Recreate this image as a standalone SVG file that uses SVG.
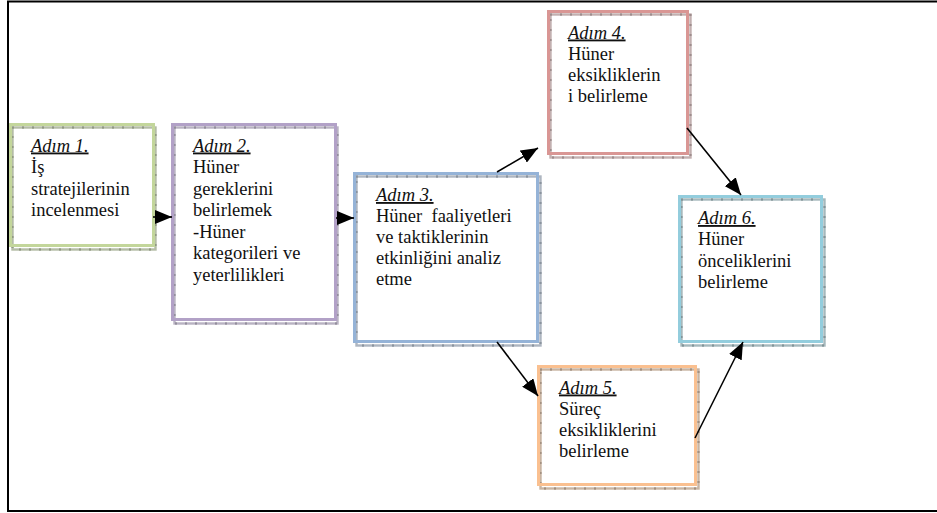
<svg xmlns="http://www.w3.org/2000/svg" width="937" height="513" viewBox="0 0 937 513">
<defs>
<marker id="ah" markerUnits="userSpaceOnUse" viewBox="0 0 17 14" refX="17" refY="7" markerWidth="17" markerHeight="14" orient="auto">
<path d="M0,0 L17,7 L0,14 z" fill="#000"/>
</marker>
</defs>
<style>
.frame{fill:none;stroke:#000;stroke-width:2}
.sh{fill:#fff;stroke-width:2.4}
.tick{fill:none;stroke-width:2.4;stroke-dasharray:1 9}
.col{fill:none;stroke-width:3}
.t{font-size:18.5px;fill:#111;white-space:pre}
.h{font-style:italic;text-decoration:underline}
.c{fill:none;stroke:#000;stroke-width:1.6;marker-end:url(#ah)}
</style>
<rect class="frame" x="8" y="1.5" width="935" height="509.5"/>

<g id="step1">
<rect class="sh" x="12.5" y="127.5" width="143" height="122" stroke="#b4bca6"/>
<rect class="tick" x="12.5" y="127.5" width="143" height="122" stroke="#6f7660"/>
<rect class="col" x="10.5" y="124.5" width="143" height="121" stroke="#C3D69B"/>
<text class="t" font-family="'Liberation Serif', 'DejaVu Serif', serif" x="31" y="151.5"><tspan class="h">Adım 1.</tspan><tspan x="31" dy="21.5">İş</tspan><tspan x="31" dy="21.5">stratejilerinin</tspan><tspan x="31" dy="21.5">incelenmesi</tspan></text>
</g>

<g id="step2">
<rect class="sh" x="174.5" y="127.5" width="163" height="196" stroke="#b8b2c2"/>
<rect class="tick" x="174.5" y="127.5" width="163" height="196" stroke="#6f6a78"/>
<rect class="col" x="172.5" y="124.5" width="163" height="195" stroke="#B2A1C7"/>
<text class="t" font-family="'Liberation Serif', 'DejaVu Serif', serif" x="193" y="151.5"><tspan class="h">Adım 2.</tspan><tspan x="193" dy="21.5">Hüner</tspan><tspan x="193" dy="21.5">gereklerini</tspan><tspan x="193" dy="21.5">belirlemek</tspan><tspan x="193" dy="21.5">-Hüner</tspan><tspan x="193" dy="21.5">kategorileri ve</tspan><tspan x="193" dy="21.5">yeterlilikleri</tspan></text>
</g>

<g id="step3">
<rect class="sh" x="356.5" y="176.5" width="184" height="169" stroke="#aeb6c0"/>
<rect class="tick" x="356.5" y="176.5" width="184" height="169" stroke="#66707c"/>
<rect class="col" x="354.5" y="173.5" width="183" height="168" stroke="#95B3D7"/>
<text class="t" font-family="'Liberation Serif', 'DejaVu Serif', serif" x="376" y="201"><tspan class="h">Adım 3.</tspan><tspan x="376" dy="21">Hüner  faaliyetleri</tspan><tspan x="376" dy="21">ve taktiklerinin</tspan><tspan x="376" dy="21">etkinliğini analiz</tspan><tspan x="376" dy="21">etme</tspan></text>
</g>

<g id="step4">
<rect class="sh" x="550.5" y="14.5" width="140" height="143" stroke="#c2b0b0"/>
<rect class="tick" x="550.5" y="14.5" width="140" height="143" stroke="#7a6868"/>
<rect class="col" x="548.5" y="11.5" width="139" height="142" stroke="#D99694"/>
<text class="t" font-family="'Liberation Serif', 'DejaVu Serif', serif" x="568" y="38.5"><tspan class="h">Adım 4.</tspan><tspan x="568" dy="21.3">Hüner</tspan><tspan x="568" dy="21.3">eksikliklerin</tspan><tspan x="568" dy="21.3">i belirleme</tspan></text>
</g>

<g id="step5">
<rect class="sh" x="540.5" y="369.5" width="158" height="119" stroke="#c8b4a2"/>
<rect class="tick" x="540.5" y="369.5" width="158" height="119" stroke="#7e6c5c"/>
<rect class="col" x="538.5" y="366.5" width="157" height="118" stroke="#FAC090"/>
<text class="t" font-family="'Liberation Serif', 'DejaVu Serif', serif" x="559" y="393.5"><tspan class="h">Adım 5.</tspan><tspan x="559" dy="21.3">Süreç</tspan><tspan x="559" dy="21.3">eksikliklerini</tspan><tspan x="559" dy="21.3">belirleme</tspan></text>
</g>

<g id="step6">
<rect class="sh" x="681.5" y="199.5" width="143" height="146" stroke="#a6b8bc"/>
<rect class="tick" x="681.5" y="199.5" width="143" height="146" stroke="#5f7074"/>
<rect class="col" x="679.5" y="196.5" width="142" height="145" stroke="#93CDDD"/>
<text class="t" font-family="'Liberation Serif', 'DejaVu Serif', serif" x="698" y="224"><tspan class="h">Adım 6.</tspan><tspan x="698" dy="21.3">Hüner</tspan><tspan x="698" dy="21.3">önceliklerini</tspan><tspan x="698" dy="21.3">belirleme</tspan></text>
</g>

<g id="connectors">
<line class="c" x1="153" y1="217" x2="172" y2="217"/>
<line class="c" x1="336" y1="218" x2="354" y2="218"/>
<line class="c" x1="497" y1="172" x2="538" y2="148"/>
<line class="c" x1="687" y1="128" x2="741" y2="195"/>
<line class="c" x1="497" y1="342" x2="538" y2="396"/>
<line class="c" x1="695" y1="438" x2="743" y2="342"/>
</g>
</svg>
